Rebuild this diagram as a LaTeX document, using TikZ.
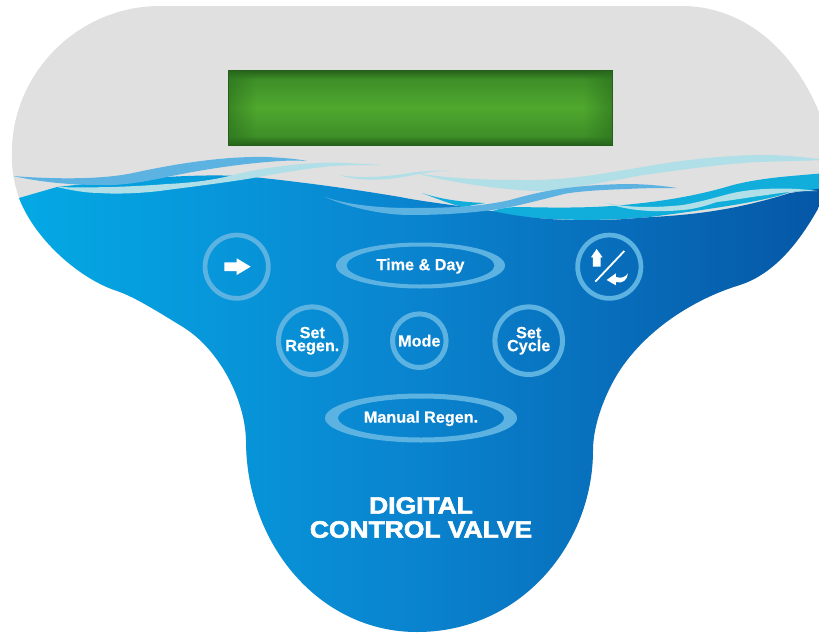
\documentclass[tikz,border=0pt]{standalone}
\usepackage{fontspec}
\setmainfont{Liberation Sans}[BoldFeatures={FakeBold=0.35}]
\newfontfamily\heavyfont[FakeBold=2.6,FakeStretch=1.12]{Liberation Sans Bold}
\usetikzlibrary{fadings}
\definecolor{panelgrey}{HTML}{E0E0E0}
\definecolor{ringblue}{HTML}{5CB3E2}
\definecolor{palewave}{HTML}{B0DFE8}
\definecolor{cyanwave}{HTML}{12AEDB}
\definecolor{waterL}{HTML}{03ABE5}
\definecolor{waterM}{HTML}{0A84CF}
\definecolor{waterR}{HTML}{0556A5}
\definecolor{lcdlight}{HTML}{50A82E}
\definecolor{lcdmid}{HTML}{3E8F28}
\definecolor{lcddark}{HTML}{2A6E1E}
\pgfdeclareverticalshading{lcdv}{100bp}{color(0bp)=(lcddark!85!black); color(25bp)=(lcddark!85!black); color(31bp)=(lcdmid); color(50bp)=(lcdlight); color(69bp)=(lcdmid); color(75bp)=(lcddark!85!black); color(100bp)=(lcddark!85!black)}
\def\outline{(160,6) -- (682,6) .. controls (735,6) and (795,40) .. (826,130) .. controls (828,160) and (825,192) .. (819,207) .. controls (795,250) and (770,275) .. (740,285) .. controls (700,297) and (650,325) .. (620,370) .. controls (605,393) and (593,425) .. (593,450) .. controls (593,545) and (520,632) .. (417,632) .. controls (320,632) and (246,545) .. (246,440) .. controls (245,400) and (220,350) .. (183,327) .. controls (160,313) and (135,297) .. (117,291) .. controls (80,279) and (35,240) .. (19,198) .. controls (13,180) and (11,165) .. (12,147) .. controls (15,70) and (80,6) .. (160,6) -- cycle}
\tikzset{
  ringbtn/.style={circle,draw=ringblue,inner sep=0pt,text=white,font=\bfseries\fontsize{16.2}{13}\selectfont,align=center},
  pilltext/.style={text=white,font=\bfseries\fontsize{16.2}{13}\selectfont},
  ringfill/.style={fill=ringblue,even odd rule},
  iconfill/.style={fill=white,draw=none},
  midwave/.style={fill=ringblue},
  lightwave/.style={fill=palewave},
}
\begin{document}
\begin{tikzpicture}[x=1pt,y=-1pt]
\useasboundingbox (0,0) rectangle (819,632);
\begin{scope}
\clip \outline;
\fill[panelgrey] (0,0) rectangle (830,632);
% cyan band behind the water
\fill[cyanwave] (490,212) .. controls (500,208) and (510,207) .. (520,207) .. controls (560,208) and (600,208) .. (633,204) .. controls (665,201) and (700,195) .. (733,185) .. controls (765,177) and (795,176) .. (825,173) -- (825,188) -- (817,191) -- (790,192) .. controls (770,200) and (720,208) .. (650,217) .. controls (610,221) and (540,222) .. (490,212) -- cycle;
% water body
\begin{scope}
\clip (-5,640) -- (-5,204) -- (19,198) -- (57,187) .. controls (120,180) and (200,172) .. (253,177) .. controls (320,184) and (370,192) .. (400,197) .. controls (430,203) and (465,206) .. (497,212) .. controls (530,219) and (570,221) .. (597,220) .. controls (620,220) and (635,218) .. (653,217) .. controls (685,215) and (730,212) .. (790,193) -- (830,187) -- (830,640) -- cycle;
\shade[left color=waterL,right color=waterM] (0,0) rectangle (410,640);
\shade[left color=waterM,right color=waterR] (410,0) rectangle (830,640);
\end{scope}
% cyan wedge
\fill[cyanwave] (422,193) .. controls (440,199) and (460,202) .. (485,203) -- (463,207) .. controls (450,204) and (435,198) .. (422,193) -- cycle;
% blue patch between the left waves
\fill[waterL!70!waterM] (105,186) .. controls (140,182) and (175,177) .. (217,176) -- (160,190) -- cycle;
% left waves
\fill[midwave] (13,176) .. controls (50,179) and (100,180) .. (133,173) .. controls (170,165) and (220,156) .. (267,157) .. controls (285,158) and (298,159) .. (307,161) .. controls (290,160) and (280,161) .. (267,162) .. controls (230,165) and (190,172) .. (167,177) .. controls (140,183) and (115,186) .. (100,185) .. controls (70,185) and (40,182) .. (13,176) -- cycle;
\fill[lightwave] (57,187) .. controls (90,188) and (130,187) .. (167,184) .. controls (190,183) and (215,180) .. (233,175) .. controls (260,168) and (310,161) .. (345,163) .. controls (360,164) and (372,164) .. (380,165) .. controls (365,165) and (350,165) .. (333,166) .. controls (310,168) and (280,173) .. (253,178) .. controls (230,182) and (190,187) .. (167,190) .. controls (140,194) and (110,194) .. (100,193) .. controls (85,193) and (70,190) .. (57,187) -- cycle;
% right pale waves
\fill[lightwave] (340,175) .. controls (355,178) and (380,178) .. (410,173) .. controls (425,171) and (440,170) .. (450,171) .. controls (430,171) and (420,174) .. (408,176) .. controls (385,181) and (355,181) .. (340,175) -- cycle;
\fill[lightwave] (412,172) .. controls (440,178) and (480,180) .. (520,180) .. controls (570,181) and (610,172) .. (643,167) .. controls (680,160) and (730,155) .. (760,155) .. controls (785,155) and (805,157) .. (825,160) .. controls (805,161) and (785,161) .. (760,162) .. controls (730,163) and (680,170) .. (643,175) .. controls (610,181) and (575,188) .. (543,191) .. controls (510,191) and (450,183) .. (412,172) -- cycle;
% mid-blue lower wave
\fill[midwave] (325,197) .. controls (345,204) and (375,208) .. (410,208) .. controls (445,208) and (480,207) .. (510,200) .. controls (535,193) and (565,185) .. (627,184) .. controls (645,184) and (665,186) .. (677,188) .. controls (660,188) and (645,188) .. (627,189) .. controls (595,190) and (570,192) .. (560,195) .. controls (540,200) and (525,204) .. (510,207) .. controls (480,213) and (440,215) .. (410,215) .. controls (380,215) and (345,206) .. (325,197) -- cycle;
% pale strip on the cyan band
\fill[lightwave] (603,202) .. controls (625,208) and (655,208) .. (683,205) .. controls (705,201) and (720,196) .. (733,193) .. controls (755,188) and (790,187) .. (817,191) .. controls (800,191) and (785,192) .. (767,195) .. controls (750,197) and (735,200) .. (717,202) .. controls (705,206) and (695,209) .. (683,210) .. controls (650,213) and (625,210) .. (603,202) -- cycle;
\end{scope}
% LCD
\shade[shading=lcdv] (228,70) rectangle (612,145);
\fill[lcddark,opacity=0.6,path fading=east] (228,70) rectangle (256,145);
\fill[lcddark,opacity=0.6,path fading=west] (584,70) rectangle (612,145);
\draw[lcddark!85!black,line width=0.8pt] (228,70) rectangle (612,145);
% round buttons
\node[ringbtn,line width=4.7pt,minimum size=63.3pt] (next) at (236.7,266.7) {};
\node[ringbtn,line width=4.7pt,minimum size=63.3pt] (updown) at (609.3,266.7) {};
\node[ringbtn,line width=5pt,minimum size=67.6pt] (setregen) at (312.3,340.7) {Set\\Regen.};
\node[ringbtn,line width=5pt,minimum size=53.6pt] (mode) at (419.3,340.7) {Mode};
\node[ringbtn,line width=5pt,minimum size=67.6pt] (setcycle) at (528.7,340.7) {Set\\Cycle};
% pill buttons
\fill[ringfill] (420.5,265.5) ellipse [x radius=84.5,y radius=23] (420.5,265.5) ellipse [x radius=74,y radius=19];
\node[pilltext] (timeday) at (420.5,266) {Time \& Day};
\fill[ringfill] (421,418) ellipse [x radius=96,y radius=24.5] (421,418) ellipse [x radius=83,y radius=19.5];
\node[pilltext] (manual) at (421,418.5) {Manual Regen.};
% icons
\fill[iconfill] (224.3,262.3) -- (236.7,262.3) -- (236.7,258.3) -- (250.7,266.7) -- (236.7,275) -- (236.7,271) -- (224.3,271) -- cycle;
\begin{scope}[shift={(190,230)},x=0.3333pt,y=-0.3333pt]
\fill[iconfill] (1220,57) -- (1238,82) -- (1232,82) -- (1232,110) -- (1209,110) -- (1209,82) -- (1203,82) -- cycle;
\draw[white,line width=1.8pt] (1303,63) -- (1216,155);
\fill[iconfill] (1250,150) -- (1278,130) -- (1278,141) .. controls (1295,146) and (1305,142) .. (1314,130) .. controls (1312,150) and (1298,162) .. (1278,156) -- (1278,166) -- cycle;
\end{scope}
% title
\node[text=white,font=\heavyfont\fontsize{23.6}{24}\selectfont,align=center,inner sep=0pt] (title) at (421,517.5) {DIGITAL\\CONTROL VALVE};
\end{tikzpicture}
\end{document}
